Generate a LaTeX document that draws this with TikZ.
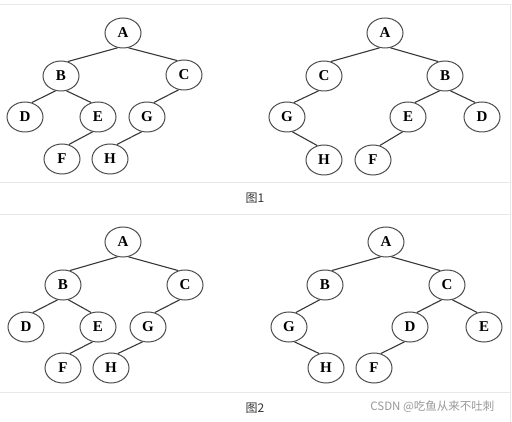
\documentclass[tikz,border=0pt]{standalone}
\usepackage{fontspec}
\setmainfont{Liberation Serif}
\newfontfamily\cjkfont{Noto Sans CJK SC}
\usetikzlibrary{shapes.geometric}

\tikzset{
  vertex/.style={ellipse, draw=black!70, line width=1pt, fill=white,
    minimum width=36pt, minimum height=30pt, inner sep=0pt,
    font=\fontsize{15}{15}\selectfont\bfseries},
  branch/.style={draw=black!78, line width=1.1pt},
  panelrule/.style={draw=black!9, line width=0.9pt},
  figcaption/.style={font=\cjkfont\fontsize{12}{12}\selectfont, text=black!80},
  watermark/.style={font=\cjkfont\fontsize{11.5}{12}\selectfont, text=black!40}
}

\begin{document}
\begin{tikzpicture}[x=1pt,y=-1pt]
  \useasboundingbox[fill=white] (0,0) rectangle (512,422);
  % panel frames
  \draw[panelrule] (0,4.5) -- (510.5,4.5);
  \draw[panelrule] (0,182.5) -- (510.5,182.5);
  \draw[panelrule] (0,214.5) -- (510.5,214.5);
  \draw[panelrule] (0,392.5) -- (510.5,392.5);
  \draw[panelrule] (510.5,4.5) -- (510.5,422);

  % figure 1, left tree
  \foreach \n/\x/\y in {A/123/33,B/61/76,C/184/75,D/25/117,E/98/117,G/147/117,F/62/159,H/110/159}
    \node[vertex] (t1\n) at (\x,\y) {\n};
  \foreach \a/\b in {A/B,B/D,E/F,C/G,G/H}
    \draw[branch] (t1\a.-110) -- (t1\b.65);
  \foreach \a/\b in {A/C,B/E}
    \draw[branch] (t1\a.-70) -- (t1\b.115);

  % figure 1, right tree
  \foreach \n/\x/\y in {A/385/33,C/324/76,B/445/76,G/287/117,E/408/117,D/482/117,H/324/160,F/373/160}
    \node[vertex] (t2\n) at (\x,\y) {\n};
  \foreach \a/\b in {A/C,C/G,B/E,E/F}
    \draw[branch] (t2\a.-110) -- (t2\b.65);
  \foreach \a/\b in {A/B,G/H,B/D}
    \draw[branch] (t2\a.-70) -- (t2\b.115);

  % figure 2, left tree
  \foreach \n/\x/\y in {A/123/242,B/63/285,C/185/285,D/26/327,E/98/327,G/148/327,F/63/368,H/111/368}
    \node[vertex] (t3\n) at (\x,\y) {\n};
  \foreach \a/\b in {A/B,B/D,E/F,C/G,G/H}
    \draw[branch] (t3\a.-110) -- (t3\b.65);
  \foreach \a/\b in {A/C,B/E}
    \draw[branch] (t3\a.-70) -- (t3\b.115);

  % figure 2, right tree
  \foreach \n/\x/\y in {A/386/242,B/325/285,C/447/285,G/289/327,D/410/327,E/484/327,H/326/368,F/374/368}
    \node[vertex] (t4\n) at (\x,\y) {\n};
  \foreach \a/\b in {A/B,B/G,C/D,D/F}
    \draw[branch] (t4\a.-110) -- (t4\b.65);
  \foreach \a/\b in {A/C,G/H,C/E}
    \draw[branch] (t4\a.-70) -- (t4\b.115);

  % captions
  \node[figcaption] (cap1) at (255,198) {图1};
  \node[figcaption] (cap2) at (255,408) {图2};
  \node[watermark, anchor=east] (wm) at (498,407) {CSDN @吃鱼从来不吐刺};
\end{tikzpicture}
\end{document}
